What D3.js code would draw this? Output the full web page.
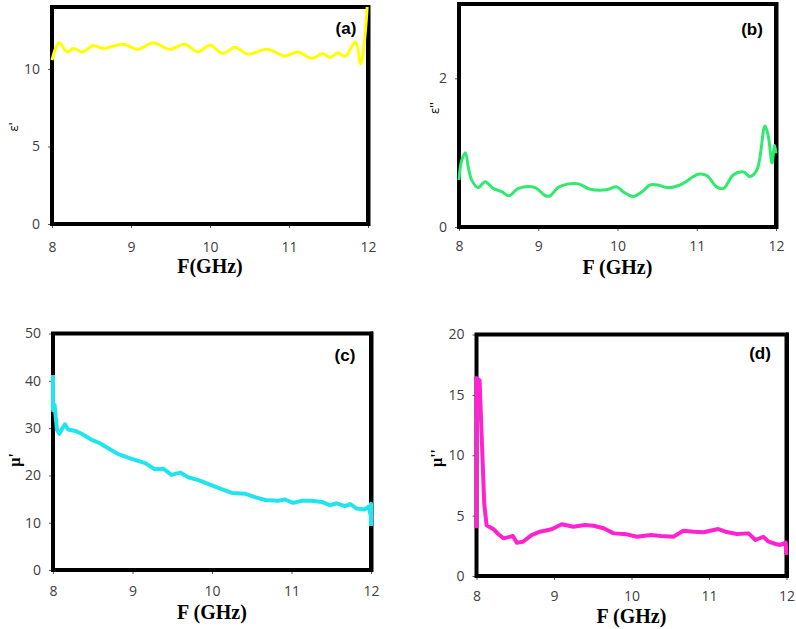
<!DOCTYPE html>
<html>
<head>
<meta charset="utf-8">
<script src="https://cdn.jsdelivr.net/npm/d3@7"></script>
<style>
  body { margin: 0; background: #fff; }
  .tick text { font-family: "Open Sans", sans-serif; font-size: 14px; fill: #404040; }
  .tick line { stroke: #555; }
  .panelTag { font-family: "Liberation Sans", Arial, sans-serif; font-weight: bold; font-size: 17px; }
  .xTitle { font-family: "Liberation Serif", "Times New Roman", serif; font-weight: bold; font-size: 20px; }
</style>
</head>
<body>
<svg id="chart" width="796" height="629"></svg>
<script>
//  (a) real permittivity
const freqA = [8.0, 8.09, 8.19, 8.27, 8.38, 8.52, 8.65, 8.90, 9.09, 9.28, 9.49, 9.68, 9.85, 10.0, 10.16,
    10.32, 10.48, 10.72, 10.95, 11.11, 11.29, 11.43, 11.52, 11.62, 11.71, 11.84, 11.91, 11.99];
const epsReal = [10.58, 11.7, 11.1, 11.33, 11.1, 11.5, 11.33, 11.6, 11.27, 11.7, 11.27, 11.6, 11.1, 11.55, 11.0,
    11.4, 10.95, 11.27, 10.84, 11.1, 10.69, 11.0, 10.75, 11.05, 10.8, 11.76, 10.32, 14.0];

//  (b) imaginary permittivity
const freqB = [8.0, 8.03, 8.08, 8.12, 8.16, 8.24, 8.33, 8.43, 8.54, 8.63, 8.75, 8.96, 9.09, 9.15, 9.25, 9.38,
    9.51, 9.65, 9.86, 9.99, 10.07, 10.20, 10.31, 10.41, 10.51, 10.62, 10.79, 11.02, 11.13, 11.25, 11.34,
    11.46, 11.59, 11.67, 11.76, 11.86, 11.90, 11.95, 11.98, 12.0];
const epsImag = [0.63, 0.88, 1.0, 0.79, 0.63, 0.53, 0.61, 0.52, 0.475, 0.42, 0.52, 0.53, 0.42, 0.42, 0.53, 0.58,
    0.58, 0.51, 0.50, 0.54, 0.475, 0.41, 0.475, 0.565, 0.565, 0.53, 0.565, 0.71, 0.69, 0.54, 0.52,
    0.70, 0.74, 0.68, 0.77, 1.36, 1.24, 0.86, 1.10, 0.99];

//  (c) real permeability
const freqC = [8.0, 8.0, 8.02, 8.05, 8.08, 8.12, 8.15, 8.19, 8.28, 8.36, 8.49, 8.59, 8.70, 8.82, 8.99, 9.16,
    9.28, 9.39, 9.49, 9.60, 9.70, 9.83, 9.95, 10.12, 10.25, 10.42, 10.54, 10.67, 10.83, 10.92, 11.02,
    11.13, 11.25, 11.38, 11.48, 11.57, 11.67, 11.74, 11.82, 11.92, 11.97, 12.0, 12.0, 12.0];
const muReal = [41.2, 33.8, 34.9, 29.6, 28.8, 30.0, 30.8, 29.7, 29.4, 28.8, 27.5, 26.8, 25.7, 24.5, 23.5, 22.6,
    21.3, 21.4, 20.1, 20.6, 19.6, 19.0, 18.2, 17.1, 16.3, 16.1, 15.4, 14.8, 14.65, 14.9, 14.2,
    14.65, 14.65, 14.4, 13.7, 14.1, 13.5, 13.95, 13.0, 12.8, 13.4, 11.3, 14.0, 9.3];

//  (d) imaginary permeability
const freqD = [8.0, 8.0, 8.04, 8.07, 8.10, 8.13, 8.22, 8.28, 8.35, 8.47, 8.52, 8.60, 8.71, 8.82, 8.97, 9.10,
    9.25, 9.40, 9.51, 9.64, 9.77, 9.94, 10.07, 10.25, 10.38, 10.54, 10.67, 10.80, 10.93, 11.12, 11.23,
    11.36, 11.51, 11.60, 11.70, 11.77, 11.86, 11.92, 11.99, 12.0];
const muImag = [3.95, 16.4, 16.2, 11.0, 6.0, 4.2, 3.87, 3.48, 3.12, 3.31, 2.76, 2.84, 3.39, 3.67, 3.87, 4.28,
    4.08, 4.22, 4.16, 3.95, 3.53, 3.45, 3.25, 3.39, 3.31, 3.25, 3.75, 3.67, 3.62, 3.89, 3.64,
    3.48, 3.53, 2.98, 3.25, 2.84, 2.65, 2.57, 2.76, 1.74];

const xTicks = [8, 9, 10, 11, 12];

const panels = [
    { tag: "(a)", xs: freqA, ys: epsReal, color: "#ffff00", width: 3, smooth: true,
      left: 52, right: 368, bottom: 224, top: 7, yMax: 14, yTicks: [0, 5, 10],
      xTitle: "F(GHz)", yTitle: "ε'", yTitleSerif: false, yTitleX: 13, yTitleY: 127,
      tagX: 346, tagY: 34, xTitleY: 273, xPad: 14 },
    { tag: "(b)", xs: freqB, ys: epsImag, color: "#2fea6e", width: 3, smooth: true,
      left: 459, right: 776, bottom: 227, top: 4, yMax: 3, yTicks: [0, 2],
      xTitle: "F (GHz)", yTitle: "ε''", yTitleSerif: false, yTitleX: 434, yTitleY: 108,
      tagX: 752, tagY: 35, xTitleY: 274, xPad: 10 },
    { tag: "(c)", xs: freqC, ys: muReal, color: "#20e4ee", width: 4, smooth: false,
      left: 53, right: 371, bottom: 570, top: 333.5, yMax: 50, yTicks: [0, 10, 20, 30, 40, 50],
      xTitle: "F (GHz)", yTitle: "µ'", yTitleSerif: true, yTitleX: 14, yTitleY: 460,
      tagX: 345, tagY: 361, xTitleY: 619, xPad: 12 },
    { tag: "(d)", xs: freqD, ys: muImag, color: "#ff22d0", width: 4, smooth: false,
      left: 476.5, right: 786.5, bottom: 576, top: 334.5, yMax: 20, yTicks: [0, 5, 10, 15, 20],
      xTitle: "F (GHz)", yTitle: "µ''", yTitleSerif: true, yTitleX: 436, yTitleY: 458,
      tagX: 760, tagY: 359, xTitleY: 623, xPad: 11 }
];

const svg = d3.select("#chart");

panels.forEach(p => {
    const x = d3.scaleLinear().domain([8, 12]).range([p.left, p.right]);
    const y = d3.scaleLinear().domain([0, p.yMax]).range([p.bottom, p.top]);
    const g = svg.append("g");

    //  axes, ticks only (frame drawn below)
    g.append("g")
        .attr("transform", `translate(0,${p.bottom})`)
        .call(d3.axisBottom(x).tickValues(xTicks).tickSize(4).tickPadding(p.xPad).tickFormat(d3.format("d")))
        .call(a => a.select(".domain").remove());
    g.append("g")
        .attr("transform", `translate(${p.left},0)`)
        .call(d3.axisLeft(y).tickValues(p.yTicks).tickSize(4).tickPadding(8).tickFormat(d3.format("d")))
        .call(a => a.select(".domain").remove());

    //  heavy frame
    g.append("rect")
        .attr("x", p.left)
        .attr("y", y(p.yMax))
        .attr("width", p.right - p.left)
        .attr("height", p.bottom - y(p.yMax))
        .attr("fill", "none")
        .attr("stroke", "#000")
        .attr("stroke-width", 4);
    g.append("line")
        .attr("x1", p.right + 1).attr("x2", p.right + 1)
        .attr("y1", y(p.yMax) - 2).attr("y2", p.bottom + 2)
        .attr("stroke", "#000").attr("stroke-width", 3);

    //  data line sits on top of the frame, like the original
    const line = d3.line()
        .x((d, i) => x(p.xs[i]))
        .y(d => y(d))
        .curve(p.smooth ? d3.curveCatmullRom.alpha(0.5) : d3.curveLinear);

    g.append("path")
        .datum(p.ys)
        .attr("d", line)
        .attr("fill", "none")
        .attr("stroke", p.color)
        .attr("stroke-width", p.width)
        .attr("stroke-linejoin", "round");

    g.append("text")
        .attr("class", "panelTag")
        .attr("x", p.tagX).attr("y", p.tagY)
        .attr("text-anchor", "middle")
        .text(p.tag);

    g.append("text")
        .attr("class", "xTitle")
        .attr("x", (p.left + p.right) / 2).attr("y", p.xTitleY)
        .attr("text-anchor", "middle")
        .text(p.xTitle);

    g.append("text")
        .attr("transform", `translate(${p.yTitleX},${p.yTitleY}) rotate(-90)`)
        .attr("text-anchor", "middle")
        .attr("dy", "0.35em")
        .style("font-family", p.yTitleSerif ? "'Liberation Serif', serif" : "'Open Sans', sans-serif")
        .style("font-weight", p.yTitleSerif ? "bold" : "normal")
        .style("font-size", p.yTitleSerif ? "16px" : "13px")
        .text(p.yTitle);
});
</script>
</body>
</html>
